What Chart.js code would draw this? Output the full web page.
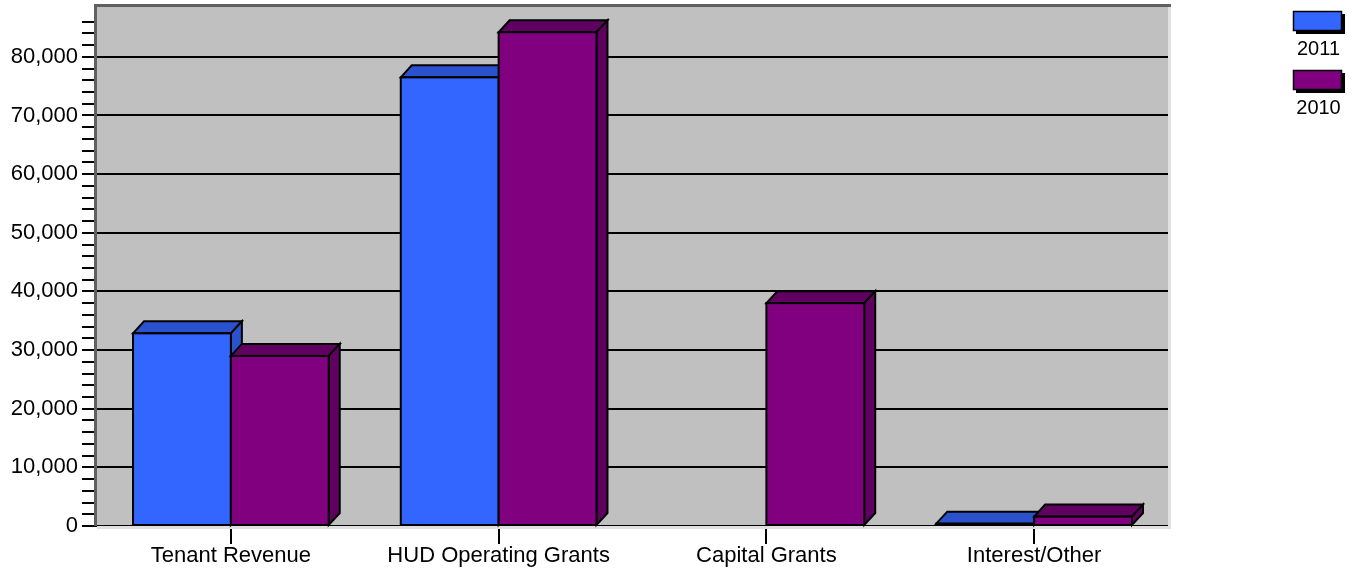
<!DOCTYPE html>
<html>
<head>
<meta charset="utf-8">
<script src="https://cdn.jsdelivr.net/npm/chart.js@4.4.0/dist/chart.umd.min.js"></script>
<style>
  html, body { margin: 0; padding: 0; background: #fff; }
  #wrap { width: 1361px; height: 571px; }
</style>
</head>
<body>
<div id="wrap"><canvas id="chart"></canvas></div>
<script>
// DATA
const categories = ["Tenant Revenue", "HUD Operating Grants", "Capital Grants", "Interest/Other"];
const seriesLabels = ["2011", "2010"];
const values2011 = [32850, 76500, 0, 400];
const values2010 = [29000, 84200, 38000, 1600];
const yMajorTicks = [0, 10000, 20000, 30000, 40000, 50000, 60000, 70000, 80000];
const yMinorStep = 2000;
const yTopTick = 86000;
const yMax = 88500;

const frontColors = ["#3366FF", "#800080"];
const sideColors = ["#2A52CC", "#600060"];
const FONT = "'Liberation Sans', Arial, sans-serif";

// 3D bars + plot frame
const depth = { dx: 11, dy: 12 };

function drawBar3D(ctx, el, front, side) {
  const w = el.width;
  const L = el.x - w / 2, R = el.x + w / 2, T = el.y, B = el.base;
  if (Math.abs(B - T) < 0.5) return;
  const dx = depth.dx, dy = depth.dy;
  ctx.save();
  ctx.lineWidth = 2;
  ctx.strokeStyle = "#000";
  ctx.lineJoin = "miter";
  // top face
  ctx.beginPath();
  ctx.moveTo(L, T);
  ctx.lineTo(L + dx, T - dy);
  ctx.lineTo(R + dx, T - dy);
  ctx.lineTo(R, T);
  ctx.closePath();
  ctx.fillStyle = side;
  ctx.fill();
  ctx.stroke();
  // side face
  ctx.beginPath();
  ctx.moveTo(R, T);
  ctx.lineTo(R + dx, T - dy);
  ctx.lineTo(R + dx, B - dy);
  ctx.lineTo(R, B);
  ctx.closePath();
  ctx.fill();
  ctx.stroke();
  // front face
  ctx.fillStyle = front;
  ctx.fillRect(L, T, w, B - T);
  ctx.strokeRect(L, T, w, B - T);
  ctx.restore();
}

const plot3D = {
  id: "plot3D",
  beforeDraw(chart) {
    const { ctx, chartArea: a } = chart;
    ctx.save();
    ctx.fillStyle = "#C0C0C0";
    ctx.fillRect(a.left, a.top, a.right - a.left, a.bottom - a.top);
    ctx.restore();
  },
  beforeDatasetsDraw(chart) {
    const { ctx, chartArea: a } = chart;
    ctx.save();
    // frame: dark left/top, light right/bottom
    ctx.lineWidth = 3;
    ctx.strokeStyle = "#E0E0E0";
    ctx.beginPath();
    ctx.moveTo(a.right + 1.5, a.top);
    ctx.lineTo(a.right + 1.5, a.bottom + 1.5);
    ctx.lineTo(a.left, a.bottom + 1.5);
    ctx.stroke();
    ctx.strokeStyle = "#606060";
    ctx.beginPath();
    ctx.moveTo(a.left - 1.5, a.bottom);
    ctx.lineTo(a.left - 1.5, a.top - 1.5);
    ctx.lineTo(a.right + 3, a.top - 1.5);
    ctx.stroke();
    ctx.restore();

    const metas = chart.data.datasets.map((d, i) => chart.getDatasetMeta(i));
    for (let c = 0; c < categories.length; c++) {
      metas.forEach((m, i) => {
        const el = m.data[c];
        if (el) drawBar3D(ctx, el, frontColors[i], sideColors[i]);
      });
    }
    return false;
  },
  afterDraw(chart) {
    const ctx = chart.ctx;
    ctx.save();
    ctx.font = "20px " + FONT;
    ctx.textAlign = "center";
    ctx.textBaseline = "middle";
    seriesLabels.forEach((lab, i) => {
      const x = 1293, y = 11 + i * 59, w = 49, h = 20;
      ctx.fillStyle = "#000";
      ctx.fillRect(x + 3, y + 3, w, h);
      ctx.fillStyle = frontColors[i];
      ctx.fillRect(x, y, w, h);
      ctx.lineWidth = 1.5;
      ctx.strokeStyle = "#000";
      ctx.strokeRect(x + 0.5, y + 0.5, w - 1, h - 1);
      ctx.fillStyle = "#000";
      ctx.fillText(lab, x + w / 2 + 1, y + 38);
    });
    ctx.restore();
  }
};

const data = {
  labels: categories,
  datasets: [
    { label: seriesLabels[0], data: values2011, backgroundColor: frontColors[0] },
    { label: seriesLabels[1], data: values2010, backgroundColor: frontColors[1] }
  ]
};

const config = {
  type: "bar",
  data: data,
  options: {
    responsive: true,
    maintainAspectRatio: false,
    animation: false,
    datasets: {
      bar: { categoryPercentage: 0.731, barPercentage: 1.0 }
    },
    layout: { padding: { top: 7, right: 193, left: 0, bottom: 0 } },
    scales: {
      x: {
        offset: true,
        border: { display: false },
        grid: {
          offset: false,
          drawOnChartArea: false,
          tickLength: 18,
          tickColor: "#000",
          lineWidth: 2
        },
        ticks: {
          color: "#000",
          font: { family: FONT, size: 22 },
          padding: -1,
          maxRotation: 0
        },
        afterFit: (s) => { s.height = 45; s.paddingLeft = 0; s.paddingRight = 0; }
      },
      y: {
        min: 0,
        max: yMax,
        border: { display: false },
        grid: {
          color: (ctx) => (ctx.tick && yMajorTicks.includes(ctx.tick.value) ? "#000" : "rgba(0,0,0,0)"),
          tickColor: "#000",
          tickLength: 15,
          lineWidth: 2
        },
        ticks: {
          autoSkip: false,
          color: "#000",
          padding: 4,
          font: { family: FONT, size: 22 },
          callback: (v) => (yMajorTicks.includes(v) ? v.toLocaleString("en-US") : "")
        },
        afterBuildTicks: (s) => {
          const t = [];
          for (let v = 0; v <= yTopTick; v += yMinorStep) t.push({ value: v });
          s.ticks = t;
        },
        afterFit: (s) => { s.width = 97; s.paddingTop = 0; s.paddingBottom = 0; }
      }
    },
    plugins: {
      legend: { display: false },
      tooltip: { enabled: false }
    }
  },
  plugins: [plot3D]
};

const chart = new Chart(document.getElementById("chart"), config);
</script>
</body>
</html>
